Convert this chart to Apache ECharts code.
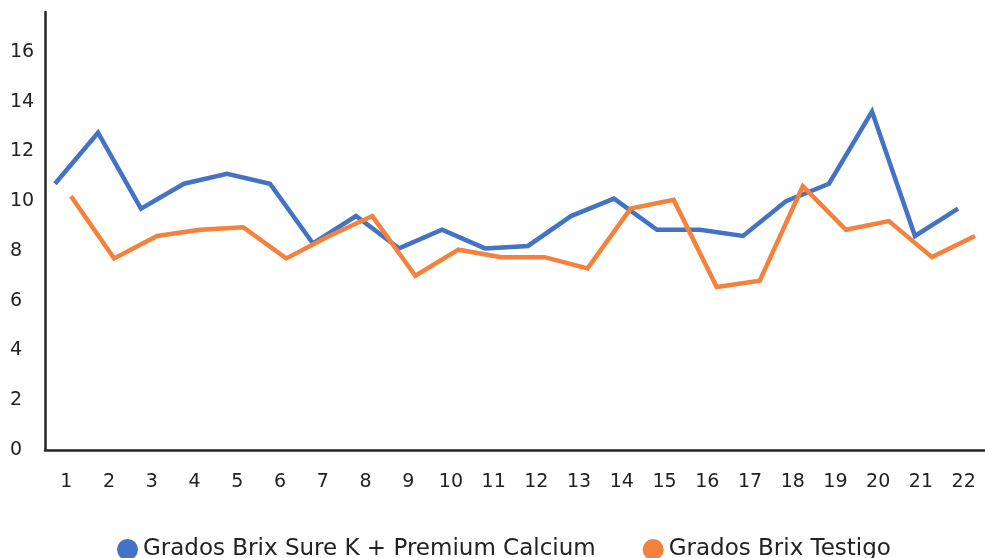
<!DOCTYPE html>
<html>
<head>
<meta charset="utf-8">
<script src="https://cdn.jsdelivr.net/npm/echarts@6/dist/echarts.min.js"></script>
<style>
html,body{margin:0;padding:0;background:#fff;}
#chart{width:985px;height:558px;}
</style>
</head>
<body>
<div id="chart"></div>
<script>
const categories = ['1','2','3','4','5','6','7','8','9','10','11','12','13','14','15','16','17','18','19','20','21','22'];
const seriesNames = ['Grados Brix Sure K + Premium Calcium', 'Grados Brix Testigo'];
const sureK = [10.7, 12.75, 9.7, 10.7, 11.1, 10.7, 8.3, 9.4, 8.1, 8.85, 8.1, 8.2, 9.4, 10.1, 8.85, 8.85, 8.6, 10.0, 10.7, 13.6, 8.6, 9.7];
const testigo = [10.2, 7.7, 8.6, 8.85, 8.95, 7.7, 8.6, 9.4, 7.0, 8.05, 7.75, 7.75, 7.3, 9.7, 10.05, 6.55, 6.8, 10.6, 8.85, 9.2, 7.75, 8.6];
const yMin = 0, yMax = 17.6, yStep = 2;

const FONT = '"DejaVu Sans", "Noto Sans", sans-serif';
const axisColor = '#262626';
const textColor = '#222222';

const chart = echarts.init(document.getElementById('chart'));
const hiddenY = (gi) => ({gridIndex: gi, type: 'value', min: yMin, max: yMax, interval: yStep, show: false});
const hiddenX = (gi) => ({gridIndex: gi, type: 'category', data: categories, boundaryGap: false, show: false});

chart.setOption({
  animation: false,
  backgroundColor: '#ffffff',
  textStyle: {fontFamily: FONT},
  grid: [
    {left: 45, right: 0, top: 12, bottom: 108},
    {left: 55, right: 27, top: 12, bottom: 108},
    {left: 71, right: 10, top: 12, bottom: 108}
  ],
  legend: {
    data: seriesNames,
    left: 112,
    top: 533,
    icon: 'circle',
    itemWidth: 21,
    itemHeight: 21,
    itemGap: 47,
    textStyle: {fontFamily: FONT, fontSize: 23, color: textColor}
  },
  xAxis: [
    {
      gridIndex: 0, type: 'category', data: categories, boundaryGap: true,
      axisLine: {show: true, lineStyle: {color: axisColor, width: 2.5}},
      axisTick: {show: false},
      axisLabel: {color: textColor, fontSize: 19, fontFamily: FONT, margin: 23, interval: 0},
      splitLine: {show: false}
    },
    hiddenX(1), hiddenX(2)
  ],
  yAxis: [
    {
      gridIndex: 0, type: 'value', min: yMin, max: yMax, interval: yStep,
      axisLine: {show: true, lineStyle: {color: axisColor, width: 2.5}},
      axisTick: {show: false},
      splitLine: {show: false},
      axisLabel: {color: textColor, fontSize: 19, fontFamily: FONT, align: 'left', margin: 35, showMaxLabel: false}
    },
    hiddenY(1), hiddenY(2)
  ],
  series: [
    {
      name: seriesNames[0], type: 'line', xAxisIndex: 1, yAxisIndex: 1,
      data: sureK, symbol: 'none', color: '#4472C4',
      lineStyle: {width: 4.5, color: '#4472C4', join: 'miter'}
    },
    {
      name: seriesNames[1], type: 'line', xAxisIndex: 2, yAxisIndex: 2,
      data: testigo, symbol: 'none', color: '#F4823C',
      lineStyle: {width: 4.5, color: '#F4823C', join: 'miter'}
    }
  ]
});
</script>
</body>
</html>
